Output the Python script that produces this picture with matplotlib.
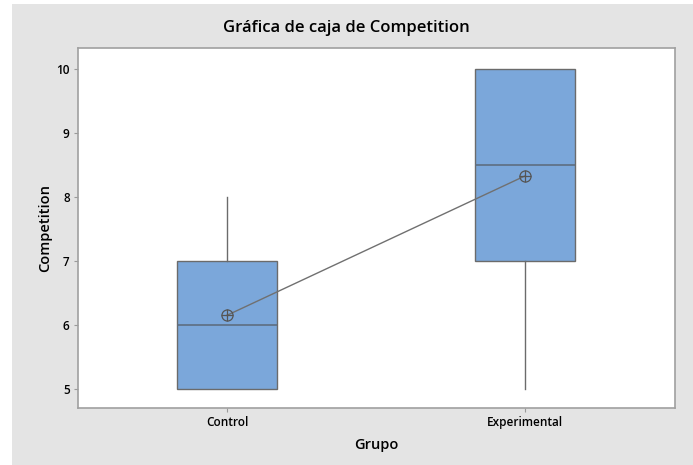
import numpy as np
import matplotlib.pyplot as plt
from matplotlib.patches import Rectangle

plt.rcParams['font.family'] = ['Open Sans', 'DejaVu Sans']

# ==== datos ====
grupos = ["Control", "Experimental"]
bigote_inf = [5, 5]
q1 = [5, 7]
mediana = [6, 8.5]
q3 = [7, 10]
bigote_sup = [8, 10]
medias = [6.15, 8.33]

stats = []
for i in range(len(grupos)):
    stats.append({
        'label': grupos[i],
        'whislo': bigote_inf[i],
        'q1': q1[i],
        'med': mediana[i],
        'q3': q3[i],
        'whishi': bigote_sup[i],
        'fliers': [],
    })

fig = plt.figure(figsize=(6.93, 4.65), dpi=100, facecolor='white')
# marco gris de fondo
fig.patches.append(Rectangle((12 / 693, 0), 1, 1 - 4 / 465, transform=fig.transFigure,
                             facecolor='#e4e4e4', edgecolor='none', zorder=-10))

ax = fig.add_axes([78 / 693, 57 / 465, 597 / 693, 360 / 465])
pos = np.arange(len(grupos))
ax.bxp(stats, positions=pos, widths=0.335, patch_artist=True, showcaps=False,
       boxprops=dict(facecolor='#7ba7da', edgecolor='#6b6b6b', linewidth=1.0),
       medianprops=dict(color='#5e6e80', linewidth=1.2),
       whiskerprops=dict(color='#6b6b6b', linewidth=1.0))

# línea que une las medias y símbolo de media
ax.plot(pos, medias, color='#707070', linewidth=1.0, zorder=4)
ax.plot(pos, medias, linestyle='none', marker='o', markersize=8,
        markerfacecolor='none', markeredgecolor='#555555', markeredgewidth=0.9, zorder=5)
ax.plot(pos, medias, linestyle='none', marker='+', markersize=8,
        markeredgecolor='#555555', markeredgewidth=0.9, zorder=5)

ax.set_xlim(-0.5, 1.503)
ax.set_ylim(4.70, 10.33)
ax.set_yticks([5, 6, 7, 8, 9, 10])
ax.set_xticks(pos)
ax.set_xticklabels(grupos)
ax.tick_params(labelsize=8.5, color='#9a9a9a', length=3, width=0.8, pad=3)
for lab in ax.get_xticklabels() + ax.get_yticklabels():
    lab.set_fontweight('semibold')

for s in ax.spines.values():
    s.set_color('#a0a0a0')
    s.set_linewidth(1.2)

ax.set_ylabel("Competition", fontsize=10.5, fontweight='semibold', labelpad=3)
ax.set_xlabel("Grupo", fontsize=10.5, fontweight='semibold', labelpad=6)
fig.text(0.5, 1 - 28 / 465, "Gráfica de caja de Competition", ha='center', va='center',
         fontsize=12, fontweight='semibold')

plt.savefig("out.png", dpi=100)
